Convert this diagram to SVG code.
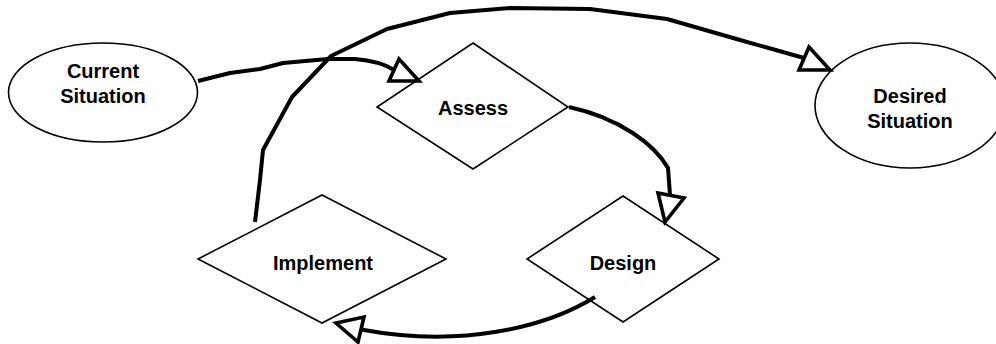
<svg xmlns="http://www.w3.org/2000/svg" width="996" height="344" viewBox="0 0 996 344">
<style>
.shape{fill:#fff;stroke:#000;stroke-width:1.6}
.lbl{font-family:"Liberation Sans",Arial,sans-serif;font-weight:bold;font-size:20px;text-anchor:middle;fill:#000}
.conn{fill:none;stroke:#000;stroke-width:4;stroke-linejoin:round;stroke-linecap:butt}
.head{fill:#fff;stroke:#000;stroke-width:3.6;stroke-linejoin:miter}
</style>
<rect width="996" height="344" fill="#fff"/>
<g id="current">
<ellipse class="shape" cx="103" cy="92.5" rx="94.5" ry="49.5"/>
<text class="lbl" x="103" y="78">Current</text>
<text class="lbl" x="103" y="103">Situation</text>
</g>
<g id="desired">
<ellipse class="shape" cx="910" cy="105.5" rx="95" ry="62.5"/>
<text class="lbl" x="910" y="103">Desired</text>
<text class="lbl" x="910" y="128">Situation</text>
</g>
<g id="assess">
<polygon class="shape" points="473,43 568,107 473,169 377,107"/>
<text class="lbl" x="473" y="115">Assess</text>
</g>
<g id="design">
<polygon class="shape" points="623,196 719,259 623,322 527,259"/>
<text class="lbl" x="623" y="270">Design</text>
</g>
<g id="implement">
<polygon class="shape" points="322,195 446,259 322,323 198,259"/>
<text class="lbl" x="323" y="270">Implement</text>
</g>
<g id="connectors">
<path class="conn" d="M198,81 L230,73 L260,69 L283,63 L328,59 L355,59 Q380,61 394,70"/>
<polygon class="head" points="399,59 389,81 419,81"/>
<path class="conn" d="M569,107 C620,118 655,145 668,168 L670,195"/>
<polygon class="head" points="658,193 684,198 665,222"/>
<path class="conn" d="M595,297 C545,328 460,348 361,329.5"/>
<polygon class="head" points="364,317 358,342 336,323"/>
<path class="conn" d="M255,222 L260,180 L263,150 L292,97 L331,56 L387,29 L450,13 L510,8 L590,9 L667,19 L740,40 L804,58"/>
<polygon class="head" points="809,47 799,70 830,70"/>
</g>
</svg>
